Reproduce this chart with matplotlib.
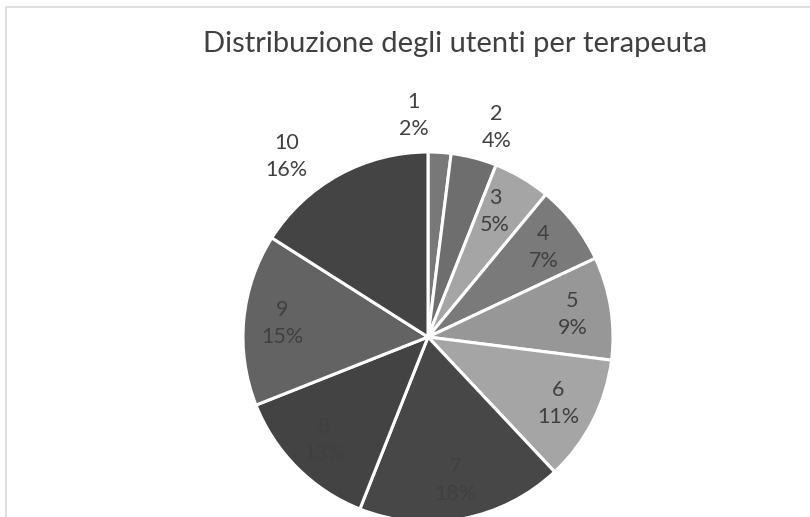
import numpy as np
import matplotlib.pyplot as plt
from matplotlib.patches import Rectangle

plt.rcParams["font.family"] = ["Lato", "DejaVu Sans"]

terapeuti = ["1", "2", "3", "4", "5", "6", "7", "8", "9", "10"]
percentuali = [2, 4, 5, 7, 9, 11, 18, 13, 15, 16]
colori = ["#787878", "#6e6e6e", "#a5a5a5", "#7a7a7a", "#979797",
          "#a5a5a5", "#474747", "#434343", "#636363", "#444444"]
# labels drawn outside the pie (Excel "best fit")
esterni = ["1", "2", "10"]

fig = plt.figure(figsize=(8.1, 5.17), dpi=100)

# chart area border (cropped at right and bottom)
fig.patches.append(Rectangle((6 / 810, -0.1), 1.1, (517 - 7) / 517 + 0.1,
                             transform=fig.transFigure, fill=False,
                             edgecolor="#d9d9d9", linewidth=1.2))

ax = fig.add_axes([243 / 810, -5 / 517, 370 / 810, 370 / 517])
wedges, _ = ax.pie(percentuali, colors=colori, startangle=90, counterclock=False,
                   wedgeprops=dict(edgecolor="white", linewidth=2.2))
ax.set_xlim(-1, 1)
ax.set_ylim(-1, 1)
ax.set_aspect("equal")
ax.axis("off")

nudge = {"1": (-0.15, 0.03), "2": (0.08, 0.0), "3": (-0.04, 0.0),
         "10": (-0.2, -0.05)}
for w, nome, p in zip(wedges, terapeuti, percentuali):
    theta = np.deg2rad((w.theta1 + w.theta2) / 2)
    if nome in esterni:
        d = 1.17
    else:
        d = 0.79
    x = d * np.cos(theta)
    y = d * np.sin(theta)
    if nome in nudge:
        x += nudge[nome][0]
        y += nudge[nome][1]
    ax.text(x, y, f"{nome}\n{p}%", ha="center", va="center", fontsize=15.5,
            color="#404040", linespacing=1.45, clip_on=False)

fig.text(455 / 810, 1 - 44 / 517, "Distribuzione degli utenti per terapeuta",
         ha="center", va="center", fontsize=21, color="#404040")

fig.savefig("out.png", dpi=100)
